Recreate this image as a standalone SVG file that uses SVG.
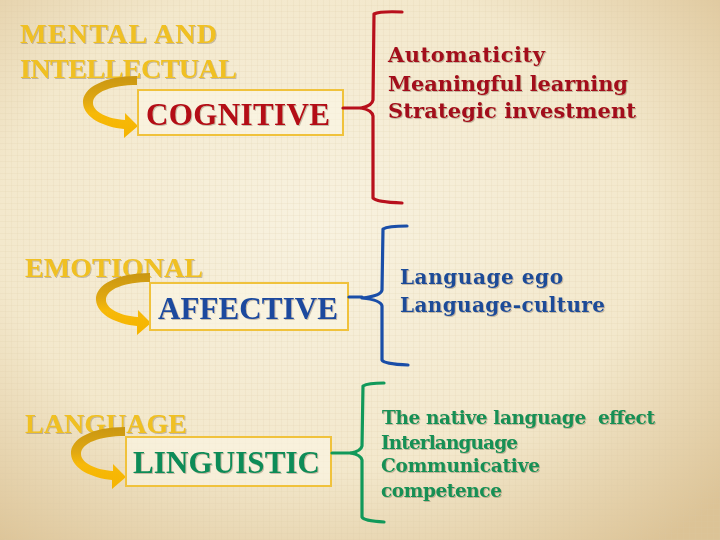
<svg xmlns="http://www.w3.org/2000/svg" width="720" height="540" viewBox="0 0 720 540">
<defs>
<radialGradient id="bg" cx="0.45" cy="0.42" r="0.75">
<stop offset="0" stop-color="#f8f2e0"/>
<stop offset="0.6" stop-color="#f3e8cc"/>
<stop offset="1" stop-color="#dcc396"/>
</radialGradient>
<pattern id="grid" width="6" height="6" patternUnits="userSpaceOnUse">
<path d="M6 0V6M0 6H6" stroke="#d9c9a3" stroke-width="0.8" opacity="0.4" fill="none"/>
</pattern>
<linearGradient id="arrowGrad" x1="0" y1="0" x2="0" y2="1">
<stop offset="0" stop-color="#c99612"/>
<stop offset="0.4" stop-color="#e0a812"/>
<stop offset="0.6" stop-color="#f7b908"/>
<stop offset="1" stop-color="#f5b400"/>
</linearGradient>
<filter id="sh" x="-5%" y="-20%" width="110%" height="140%">
<feDropShadow dx="1" dy="1" stdDeviation="0.6" flood-color="#6a5a40" flood-opacity="0.35"/>
</filter>
<path id="curl" d="M137,76 C104,76 82,88 83,103 C84,118 104,127 124,129 L124,138 L138,126 L125,113 L125,120 C108,119 93,112 93,103 C93,92 112,85 137,85 Z"/>
<style>
.head{font-family:"Liberation Serif",serif;font-size:28px;font-weight:bold;fill:#f0c020;}
.box{fill:#fbf6e6;fill-opacity:0.6;stroke:#f0c23c;stroke-width:2;}
.title{font-family:"Liberation Serif",serif;font-size:31px;font-weight:bold;}
.item{font-family:"DejaVu Serif",serif;font-weight:bold;}
.red{font-size:21px;}
.blue{font-size:20px;}
.green{font-size:18.5px;}
.brk{fill:none;stroke-width:3.2;stroke-linecap:round;stroke-linejoin:round;}
</style>
</defs>
<rect width="720" height="540" fill="url(#bg)"/>
<rect width="720" height="540" fill="url(#grid)"/>

<g id="cognitive">
<text class="head" x="20" y="43" textLength="197" filter="url(#sh)">MENTAL AND</text>
<text class="head" x="20" y="78" textLength="217" filter="url(#sh)">INTELLECTUAL</text>
<use href="#curl" fill="url(#arrowGrad)"/>
<rect class="box" x="138" y="90" width="205" height="45"/>
<text class="title" x="146" y="125" textLength="184" fill="#b40c18" filter="url(#sh)">COGNITIVE</text>
</g>

<g id="cognitive-items" fill="#a3101a" filter="url(#sh)">
<text class="item red" x="388" y="62" textLength="157">Automaticity</text>
<text class="item red" x="388" y="91" textLength="240">Meaningful learning</text>
<text class="item red" x="388" y="118" textLength="248">Strategic investment</text>
</g>

<g id="affective">
<text class="head" x="25" y="277" textLength="178" filter="url(#sh)">EMOTIONAL</text>
<use href="#curl" transform="translate(13,197)" fill="url(#arrowGrad)"/>
<rect class="box" x="150" y="283" width="198" height="47"/>
<text class="title" x="158" y="319" textLength="180" fill="#1a4a9e" filter="url(#sh)">AFFECTIVE</text>
</g>

<g id="affective-items" fill="#1c4c98" filter="url(#sh)">
<text class="item blue" x="400" y="284" textLength="163">Language ego</text>
<text class="item blue" x="400" y="312" textLength="205">Language-culture</text>
</g>

<g id="linguistic">
<text class="head" x="25" y="433" textLength="162" filter="url(#sh)">LANGUAGE</text>
<use href="#curl" transform="translate(-12,351)" fill="url(#arrowGrad)"/>
<rect class="box" x="126" y="437" width="205" height="49"/>
<text class="title" x="133" y="473" textLength="187" fill="#0e8c58" filter="url(#sh)">LINGUISTIC</text>
</g>

<g id="linguistic-items" fill="#159055" filter="url(#sh)">
<text class="item green" x="382" y="424" textLength="273" xml:space="preserve">The native language  effect</text>
<text class="item green" x="381" y="449" textLength="137">Interlanguage</text>
<text class="item green" x="381" y="472" textLength="159">Communicative</text>
<text class="item green" x="381" y="497" textLength="121">competence</text>
</g>

<g id="connectors">
<path class="brk" stroke="#b8101c" d="M343,108 H360"/>
<path class="brk" stroke="#b8101c" d="M402,12 Q380,11 374,14 L373,100 Q372,106 361,108 Q372,110 373,116 L373,198 Q376,202 402,203"/>
<path class="brk" stroke="#1a4ea8" d="M349,297 H362"/>
<path class="brk" stroke="#1a4ea8" d="M407,226 Q388,226 383,229 L382,290 Q381,296 362,298 Q381,300 382,306 L382,360 Q384,364 408,365"/>
<path class="brk" stroke="#11995a" d="M332,453 H351"/>
<path class="brk" stroke="#11995a" d="M384,383 Q368,383 363,386 L362,446 Q361,451 351,453 Q361,455 362,460 L362,517 Q364,521 384,522"/>
</g>
</svg>
